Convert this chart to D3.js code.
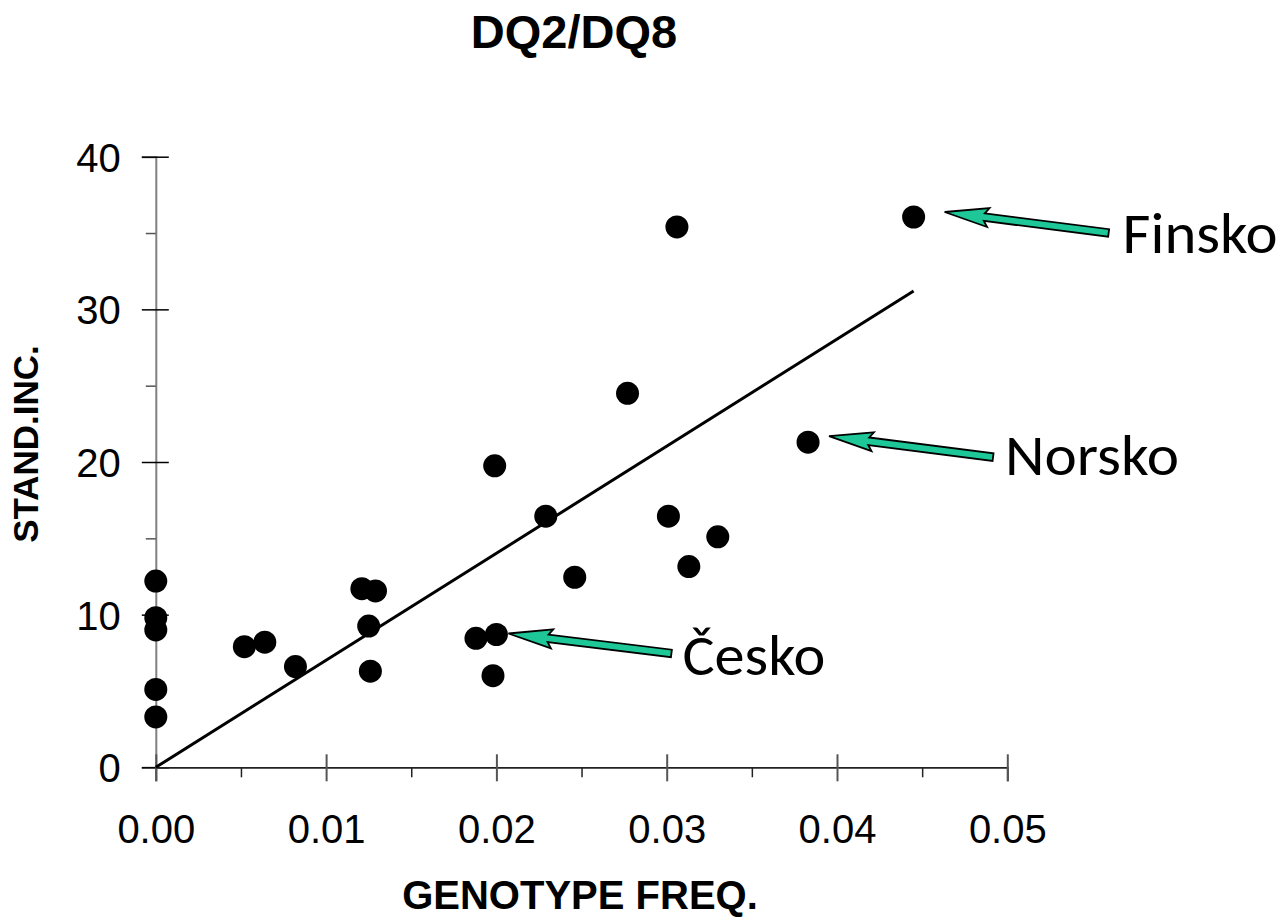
<!DOCTYPE html>
<html>
  <head>
    <title>DQ2/DQ8</title>
    <style>
body {
  margin: 0px;
  overflow: hidden;
  background: #fff;
}
text {
  font-family: 'Liberation Sans', Arial, sans-serif;
}
.tick text {
  font-size: 40px;
  fill: #000;
}
.title {
  font-size: 47px;
  font-weight: bold;
}
.axis-label {
  font-size: 40px;
  font-weight: bold;
}
.annolabel {
  font-family: Carlito, 'Noto Sans', sans-serif;
  font-size: 58px;
  fill: #000;
}
    </style>
    <script src="https://cdn.jsdelivr.net/npm/d3@7"></script>
  </head>
  <body>
    <svg width="1279" height="918"></svg>
    <script>

// points
const genotypeFreq = [0, 0, 0, 0, 0,
  0.0052, 0.0064, 0.0082, 0.0121, 0.0129, 0.0125, 0.0126,
  0.0188, 0.0200, 0.0198, 0.0199, 0.0229, 0.0246, 0.0277,
  0.0301, 0.0306, 0.0313, 0.0330, 0.0383, 0.0445];
const standInc = [12.2, 9.8, 9.0, 5.1, 3.3,
  7.9, 8.2, 6.6, 11.7, 11.55, 9.25, 6.3,
  8.45, 8.7, 6.0, 19.75, 16.45, 12.45, 24.5,
  16.45, 35.4, 13.15, 15.1, 21.3, 36.05];

// regression line ends
const fitX = [0, 0.0445];
const fitY = [0, 31.2];

const xTicks = [0, 0.01, 0.02, 0.03, 0.04, 0.05];
const xMinorTicks = [0.005, 0.015, 0.025, 0.035, 0.045];
const yTicks = [0, 10, 20, 30, 40];
const yMinorTicks = [5, 15, 25, 35];

// labelled countries -> index into the arrays above
const annoNames = ['Finsko', 'Norsko', 'Česko'];
const annoIndex = [24, 23, 13];

const svg = d3.select('svg');
const width = +svg.attr('width');
const height = +svg.attr('height');

const xScale = d3.scaleLinear()
  .domain([0, 0.05])
  .range([155.8, 1007.3]);

const yScale = d3.scaleLinear()
  .domain([0, 40])
  .range([767.3, 156.7]);

// y axis
const yAxisG = svg.append('g')
  .attr('transform', `translate(${xScale(0)},0)`)
  .call(d3.axisLeft(yScale).tickValues(yTicks).tickSize(14).tickPadding(21));
yAxisG.select('.domain').attr('stroke', '#808080').attr('stroke-width', 2);
yAxisG.selectAll('.tick line').attr('x1', 13).attr('stroke', '#000').attr('stroke-width', 1.5);
yAxisG.selectAll('.tick text').attr('dy', '0.36em');

const yMinorG = svg.append('g')
  .attr('transform', `translate(${xScale(0)},0)`)
  .call(d3.axisLeft(yScale).tickValues(yMinorTicks).tickSize(10).tickFormat(''));
yMinorG.select('.domain').remove();
yMinorG.selectAll('.tick line').attr('stroke', '#555').attr('stroke-width', 1.5);

// x axis
const xAxisG = svg.append('g')
  .attr('transform', `translate(0,${yScale(0)})`)
  .call(d3.axisBottom(xScale).tickValues(xTicks).tickSize(14).tickFormat(d3.format('.2f')));
xAxisG.select('.domain').attr('stroke', '#222').attr('stroke-width', 1.8);
xAxisG.selectAll('.tick line').attr('y1', -13).attr('stroke', '#555').attr('stroke-width', 2);
xAxisG.selectAll('.tick text').attr('y', 76).attr('dy', 0);

const xMinorG = svg.append('g')
  .attr('transform', `translate(0,${yScale(0)})`)
  .call(d3.axisBottom(xScale).tickValues(xMinorTicks).tickSize(10).tickFormat(''));
xMinorG.select('.domain').remove();
xMinorG.selectAll('.tick line').attr('stroke', '#222').attr('stroke-width', 1.5);

// regression line
svg.append('line')
  .attr('x1', xScale(fitX[0]))
  .attr('y1', yScale(fitY[0]))
  .attr('x2', xScale(fitX[1]))
  .attr('y2', yScale(fitY[1]))
  .attr('stroke', '#000')
  .attr('stroke-width', 3);

// points
svg.append('g').selectAll('circle')
  .data(genotypeFreq.map((d, i) => ({ x: d, y: standInc[i] })))
  .enter().append('circle')
    .attr('cx', d => xScale(d.x))
    .attr('cy', d => yScale(d.y))
    .attr('r', 11.5)
    .attr('fill', '#000');

// arrows + labels
const tipOffset = [[31, -5], [21, -6], [12, -1]];
const tailOffset = [[195, 16], [185, 15], [175, 19]];
const textOffset = [[14, 20], [12, 18], [11, 22]];
const textWidth = [155, 174, 143];

const arrowPath = (tx, ty, sx, sy) => {
  const len = Math.hypot(tx - sx, ty - sy);
  const ux = (tx - sx) / len, uy = (ty - sy) / len;
  const nx = -uy, ny = ux;
  const h = 44, w = 9.5, s = 3.8;
  const bx = tx - ux * h, by = ty - uy * h;
  const pts = [
    [tx, ty],
    [bx + nx * w, by + ny * w],
    [bx + ux * 4 + nx * s, by + uy * 4 + ny * s],
    [sx + nx * s, sy + ny * s],
    [sx - nx * s, sy - ny * s],
    [bx + ux * 4 - nx * s, by + uy * 4 - ny * s],
    [bx - nx * w, by - ny * w]
  ];
  return 'M' + pts.map(p => p.join(',')).join('L') + 'Z';
};

annoNames.forEach((name, k) => {
  const px = xScale(genotypeFreq[annoIndex[k]]);
  const py = yScale(standInc[annoIndex[k]]);
  const tx = px + tipOffset[k][0], ty = py + tipOffset[k][1];
  const sx = px + tailOffset[k][0], sy = py + tailOffset[k][1];
  svg.append('path')
    .attr('d', arrowPath(tx, ty, sx, sy))
    .attr('fill', '#1ec797')
    .attr('stroke', '#000')
    .attr('stroke-width', 1.8)
    .attr('stroke-linejoin', 'miter');
  svg.append('text')
    .attr('class', 'annolabel')
    .attr('x', sx + textOffset[k][0])
    .attr('y', sy + textOffset[k][1])
    .attr('textLength', textWidth[k])
    .attr('lengthAdjust', 'spacingAndGlyphs')
    .text(name);
});

// titles
svg.append('text')
  .attr('class', 'title')
  .attr('x', 574)
  .attr('y', 48)
  .attr('text-anchor', 'middle')
  .text('DQ2/DQ8');

svg.append('text')
  .attr('class', 'axis-label')
  .attr('x', 580)
  .attr('y', 909)
  .attr('text-anchor', 'middle')
  .text('GENOTYPE FREQ.');

svg.append('text')
  .attr('class', 'axis-label')
  .attr('transform', 'translate(38,444) rotate(-90)')
  .attr('text-anchor', 'middle')
  .style('font-size', '35px')
  .text('STAND.INC.');

    </script>
  </body>
</html>
